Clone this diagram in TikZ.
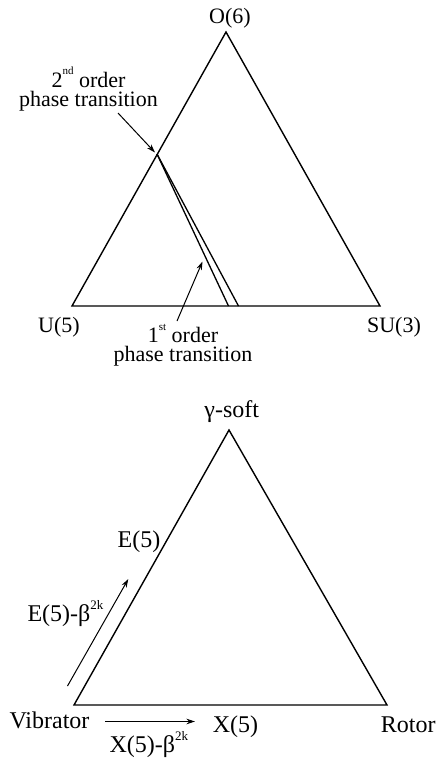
\documentclass[tikz,border=0pt]{standalone}
\usepackage{fontspec}
\setmainfont{Liberation Serif}
\usetikzlibrary{arrows.meta}
\begin{document}
\begin{tikzpicture}[x=1pt,y=-1pt,
  edge/.style={line width=1.4pt,line join=miter},
  ptr/.style={line width=1pt,-{Stealth[length=8.5pt,width=5.5pt]}},
  lbl/.style={anchor=base,inner sep=0pt,font=\fontsize{22}{24}\selectfont},
  two/.style={anchor=base,inner sep=0pt,align=center,font=\fontsize{22}{19}\selectfont},
  lblb/.style={anchor=base,inner sep=0pt,font=\fontsize{24}{26}\selectfont}]
\useasboundingbox (0,0) rectangle (439,763);
% top triangle
\coordinate (O6) at (226,32);
\coordinate (U5) at (72,306);
\coordinate (SU3) at (380,306);
\coordinate (P) at (157,154);
\coordinate (Q1) at (228.5,306);
\coordinate (Q2) at (238.5,306);
\draw[edge] (U5) -- (O6) -- (SU3) -- cycle;
\draw[line width=1.3pt] (P) -- (Q1);
\draw[line width=1.3pt] (P) -- (Q2);
\node[lbl] (tO6) at (230,23) {O(6)};
\node[lbl] (tU5) at (59,332) {U(5)};
\node[lbl] (tSU3) at (394,332) {SU(3)};
\node[two] (t2) at (88.5,106) {2\raisebox{0.55em}{\fontsize{11}{12}\selectfont nd} order\\phase transition};
\node[two] (t1) at (183,361.5) {1\raisebox{0.55em}{\fontsize{11}{12}\selectfont st} order\\phase transition};
\coordinate (a2s) at (118,113);
\coordinate (a2e) at (155,152.5);
\coordinate (a1s) at (177,321);
\coordinate (a1e) at (202.5,261.5);
\draw[ptr] (a2s) -- (a2e);
\draw[ptr] (a1s) -- (a1e);
% bottom triangle
\coordinate (G) at (229,430);
\coordinate (V) at (74,705);
\coordinate (R) at (387,705);
\draw[edge] (V) -- (G) -- (R) -- cycle;
\node[lblb] (tG) at (231.7,417) {γ-soft};
\node[lblb] (tE5) at (139,547) {E(5)};
\node[lblb,anchor=base west] (tEb) at (27.3,621) {E(5)-β\raisebox{0.5em}{\fontsize{13}{14}\selectfont 2k}};
\node[lblb] (tV) at (49.5,728.5) {Vibrator};
\node[lblb] (tX5) at (235.5,732.5) {X(5)};
\node[lblb] (tR) at (408.3,732.5) {Rotor};
\node[lblb,anchor=base west] (tXb) at (109.3,752.5) {X(5)-β\raisebox{0.5em}{\fontsize{13}{14}\selectfont 2k}};
\coordinate (ebs) at (67.5,686);
\coordinate (ebe) at (128.3,579);
\coordinate (xbs) at (105,721.5);
\coordinate (xbe) at (195,721.5);
\draw[ptr] (ebs) -- (ebe);
\draw[ptr] (xbs) -- (xbe);
\end{tikzpicture}
\end{document}
